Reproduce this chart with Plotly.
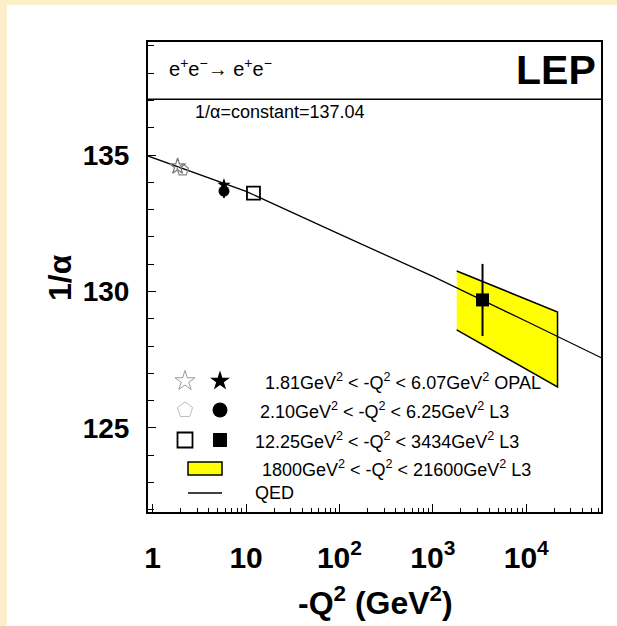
import plotly.graph_objects as go

# ---------------- data ----------------
opal_open_q2 = [1.85]
opal_open_val = [134.58]
l3_open_q2 = [2.1]
l3_open_val = [134.45]
opal_fill_q2 = [5.8]
opal_fill_val = [133.90]
l3_fill_q2 = [5.8]
l3_fill_val = [133.68]
l3_fill_err = [0.25]
l3_sq_open_q2 = [12.0]
l3_sq_open_val = [133.60]
l3_sq_fill_q2 = [3400.0]
l3_sq_fill_val = [129.69]
l3_sq_fill_err = [1.32]
band_q2 = [1800.0, 21600.0]
band_upper = [130.75, 129.25]
band_lower = [128.59, 126.50]
qed_q2 = [0.8, 1, 10, 100, 1000, 10000, 70000]
qed_val = [135.02, 134.90, 133.67, 132.10, 130.55, 128.91, 127.50]
const_inv_alpha = 137.04

x_tickvals = [1, 10, 100, 1000, 10000]
x_ticktext = ["1", "10", "10<sup>2</sup>", "10<sup>3</sup>", "10<sup>4</sup>"]
y_tickvals = [125, 130, 135]

legend_labels = [
    "1.81GeV<sup>2</sup> &lt; -Q<sup>2</sup> &lt; 6.07GeV<sup>2</sup> OPAL",
    "2.10GeV<sup>2</sup> &lt; -Q<sup>2</sup> &lt; 6.25GeV<sup>2</sup> L3",
    "12.25GeV<sup>2</sup> &lt; -Q<sup>2</sup> &lt; 3434GeV<sup>2</sup> L3",
    "1800GeV<sup>2</sup> &lt; -Q<sup>2</sup> &lt; 21600GeV<sup>2</sup> L3",
    "QED",
]

FONT = "Liberation Sans, Arial, Helvetica, sans-serif"
W, H = 617, 626
ML, MR, MT, MB = 148, 16, 42, 114
PW, PH = W - ML - MR, H - MT - MB


def px(xp):
    return (xp - ML) / PW


def py(yp):
    return (H - MB - yp) / PH


fig = go.Figure()

# yellow band
fig.add_trace(go.Scatter(
    x=band_q2 + band_q2[::-1],
    y=band_upper + band_lower[::-1],
    fill="toself", fillcolor="#FFFF00",
    mode="lines", line=dict(color="black", width=1.5),
    showlegend=False, hoverinfo="skip"))

# QED curve
fig.add_trace(go.Scatter(x=qed_q2, y=qed_val, mode="lines",
                         line=dict(color="black", width=1.3),
                         showlegend=False))

# open markers
fig.add_trace(go.Scatter(x=opal_open_q2, y=opal_open_val, mode="markers",
                         marker=dict(symbol="star-open", size=12,
                                     color="#777777", line=dict(width=1.2)),
                         showlegend=False))
fig.add_trace(go.Scatter(x=l3_open_q2, y=l3_open_val, mode="markers",
                         marker=dict(symbol="pentagon-open", size=12,
                                     color="#888888", line=dict(width=1.2)),
                         showlegend=False))
fig.add_trace(go.Scatter(x=l3_sq_open_q2, y=l3_sq_open_val, mode="markers",
                         marker=dict(symbol="square-open", size=13,
                                     color="black", line=dict(width=1.8)),
                         showlegend=False))
# filled markers
fig.add_trace(go.Scatter(x=l3_fill_q2, y=l3_fill_val, mode="markers",
                         error_y=dict(type="data", array=l3_fill_err,
                                      color="black", thickness=2, width=0),
                         marker=dict(symbol="circle", size=11, color="black"),
                         showlegend=False))
fig.add_trace(go.Scatter(x=opal_fill_q2, y=opal_fill_val, mode="markers",
                         marker=dict(symbol="star", size=10, color="black"),
                         showlegend=False))
fig.add_trace(go.Scatter(x=l3_sq_fill_q2, y=l3_sq_fill_val, mode="markers",
                         error_y=dict(type="data", array=l3_sq_fill_err,
                                      color="black", thickness=2, width=0),
                         marker=dict(symbol="square", size=13, color="black"),
                         showlegend=False))

# ---------------- hand-drawn legend keys (overlay axes 0..1) -------------
row_y = [py(381), py(410), py(440), py(468), py(493)]
key_open_x = px(185)
key_fill_x = px(220)
legend_open = [("star-open", "#9a9a9a", 15), ("pentagon-open", "#bdbdbd", 16),
               ("square-open", "black", 15)]
legend_fill = [("star", 15), ("circle", 15), ("square", 14)]
for i in range(3):
    s, c, sz = legend_open[i]
    fig.add_trace(go.Scatter(x=[key_open_x], y=[row_y[i]], xaxis="x2", yaxis="y2",
                             mode="markers",
                             marker=dict(symbol=s, size=sz, color=c,
                                         line=dict(width=1.8 if i == 2 else 1.0)),
                             showlegend=False, hoverinfo="skip"))
    s, sz = legend_fill[i]
    fig.add_trace(go.Scatter(x=[key_fill_x], y=[row_y[i]], xaxis="x2", yaxis="y2",
                             mode="markers",
                             marker=dict(symbol=s, size=sz, color="black"),
                             showlegend=False, hoverinfo="skip"))

shapes = [
    # yellow legend key
    dict(type="rect", xref="paper", yref="paper", x0=px(188), x1=px(222),
         y0=py(475), y1=py(462), fillcolor="#FFFF00",
         line=dict(color="black", width=1.5)),
    # QED legend key
    dict(type="line", xref="paper", yref="paper", x0=px(188), x1=px(222),
         y0=row_y[4], y1=row_y[4], line=dict(color="black", width=1.3)),
    # 1/alpha constant line (header separator)
    dict(type="line", xref="paper", yref="y", x0=0, x1=1,
         y0=const_inv_alpha, y1=const_inv_alpha,
         line=dict(color="black", width=1.5)),
    # cream page border (left and top)
    dict(type="rect", xref="paper", yref="paper", x0=px(0), x1=px(7),
         y0=py(H), y1=py(0), fillcolor="#FDEFC9", line=dict(width=0)),
    dict(type="rect", xref="paper", yref="paper", x0=px(0), x1=px(W),
         y0=py(5), y1=py(0), fillcolor="#FDEFC9", line=dict(width=0)),
]

text_x = [px(263), px(258), px(253), px(260), px(253)]
annotations = []
for i, lab in enumerate(legend_labels):
    annotations.append(dict(xref="paper", yref="paper", x=text_x[i], y=row_y[i],
                            text=lab, showarrow=False, xanchor="left",
                            yanchor="middle",
                            font=dict(family=FONT, size=18, color="black")))
annotations += [
    dict(xref="paper", yref="paper", x=px(167), y=py(68),
         text="e<sup>+</sup>e<sup>\u2212</sup>\u2192 e<sup>+</sup>e<sup>\u2212</sup>",
         showarrow=False, xanchor="left", yanchor="middle",
         font=dict(family=FONT, size=20, color="black")),
    dict(xref="paper", yref="paper", x=px(598), y=py(70), text="<b>LEP</b>",
         showarrow=False, xanchor="right", yanchor="middle",
         font=dict(family=FONT, size=41, color="black")),
    dict(xref="paper", yref="paper", x=px(193), y=py(112),
         text="1/\u03b1=constant=137.04",
         showarrow=False, xanchor="left", yanchor="middle",
         font=dict(family=FONT, size=18, color="black")),
    dict(xref="paper", yref="paper", x=px(375), y=py(601),
         text="<b>-Q<sup>2</sup> (GeV<sup>2</sup>)</b>",
         showarrow=False, xanchor="center", yanchor="middle",
         font=dict(family=FONT, size=32, color="black")),
    dict(xref="paper", yref="paper", x=px(60), y=py(278),
         text="<b>1/\u03b1</b>", textangle=-90,
         showarrow=False, xanchor="center", yanchor="middle",
         font=dict(family=FONT, size=32, color="black")),
]

minor_x = [m * 10 ** d for d in range(0, 5) for m in range(2, 10)]

fig.update_layout(
    width=W, height=H,
    margin=dict(l=ML, r=MR, t=MT, b=MB, pad=0),
    paper_bgcolor="white", plot_bgcolor="white",
    font=dict(family=FONT, color="black"),
    showlegend=False,
    xaxis=dict(type="log", range=[-0.05, 4.8],
               tickvals=x_tickvals, ticktext=x_ticktext,
               ticks="inside", ticklen=8, tickwidth=1.3, tickcolor="black",
               minor=dict(tickvals=minor_x, ticks="inside", ticklen=4,
                          tickwidth=1.2, tickcolor="black", showgrid=False),
               showline=True, linecolor="black", linewidth=2, mirror=True,
               showgrid=False, zeroline=False,
               tickfont=dict(family=FONT, size=30, color="black", weight="bold"),
               ticklabelstandoff=18),
    yaxis=dict(range=[121.92, 139.14], tickvals=y_tickvals,
               ticks="inside", ticklen=8, tickwidth=1.3, tickcolor="black",
               minor=dict(dtick=1, ticks="inside", ticklen=6, tickwidth=1.2,
                          tickcolor="black", showgrid=False),
               showline=True, linecolor="black", linewidth=2, mirror=True,
               showgrid=False, zeroline=False,
               tickfont=dict(family=FONT, size=28, color="black", weight="bold"),
               ticklabelstandoff=11),
    xaxis2=dict(range=[0, 1], overlaying="x", visible=False, fixedrange=True),
    yaxis2=dict(range=[0, 1], overlaying="y", visible=False, fixedrange=True),
    shapes=shapes,
    annotations=annotations,
)

fig.write_html(
    "out.html",
    config={"displayModeBar": False},
    post_script="document.body.style.margin='0';document.body.style.padding='0';",
)
